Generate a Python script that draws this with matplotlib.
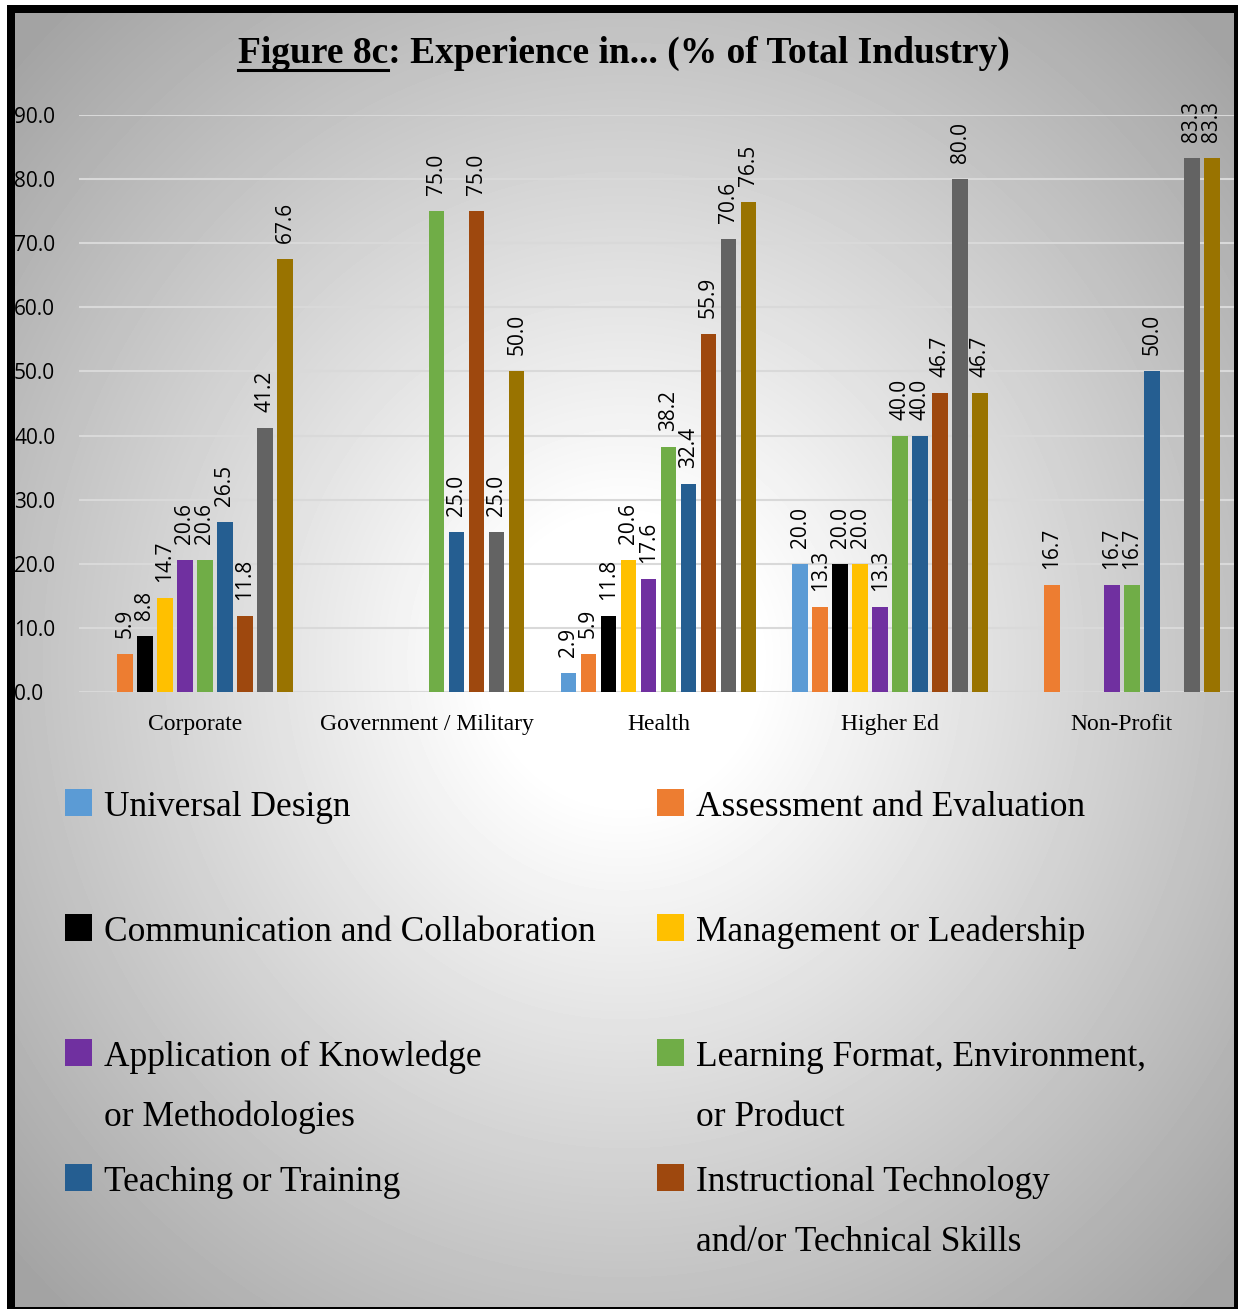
import numpy as np
import matplotlib
matplotlib.use("Agg")
import matplotlib.pyplot as plt
from matplotlib.patches import Rectangle
from matplotlib.lines import Line2D

nan = np.nan

# -----------------------------
# Data
# -----------------------------
industries = ["Corporate", "Government / Military", "Health", "Higher Ed", "Non-Profit"]

universal_design = [nan, nan, 2.9, 20.0, nan]
assessment_eval  = [5.9, nan, 5.9, 13.3, 16.7]
communication    = [8.8, nan, 11.8, 20.0, nan]
management       = [14.7, nan, 20.6, 20.0, nan]
application      = [20.6, nan, 17.6, 13.3, 16.7]
learning_format  = [20.6, 75.0, 38.2, 40.0, 16.7]
teaching         = [26.5, 25.0, 32.4, 40.0, 50.0]
instr_tech       = [11.8, 75.0, 55.9, 46.7, nan]
series9          = [41.2, 25.0, 70.6, 80.0, 83.3]
series10         = [67.6, 50.0, 76.5, 46.7, 83.3]

all_series = [universal_design, assessment_eval, communication, management,
              application, learning_format, teaching, instr_tech, series9, series10]

colors = ["#5B9BD5", "#ED7D31", "#000000", "#FFC000", "#7030A0",
          "#70AD47", "#255E91", "#9E480E", "#636363", "#997300"]

legend_labels = ["Universal Design",
                 "Assessment and Evaluation",
                 "Communication and Collaboration",
                 "Management or Leadership",
                 "Application of Knowledge\nor Methodologies",
                 "Learning Format, Environment,\nor Product",
                 "Teaching or Training",
                 "Instructional Technology\nand/or Technical Skills"]

yticks = np.arange(0, 91, 10)

# -----------------------------
# Figure + framed gradient background
# -----------------------------
W, H = 1238, 1311
fig = plt.figure(figsize=(W / 100, H / 100), dpi=100, facecolor="white")

def fx(px):
    return px / W

def fy(py):
    return 1 - py / H

bg = fig.add_axes([0, 0, 1, 1], zorder=-1)
bg.set_axis_off()
bg.add_patch(Rectangle((7, 5), W - 7, 1309 - 5, facecolor="black", edgecolor="none"))
gx = np.linspace(-1, 1, 400)
gy = np.linspace(-1, 1, 400)
GX, GY = np.meshgrid(gx, gy)
d = np.sqrt(GX ** 2 + GY ** 2)
shade = 1 - 0.36 * np.clip((d - 0.22) / 1.15, 0, 1)
bg.imshow(shade, cmap="gray", vmin=0, vmax=1, aspect="auto",
          extent=[15, 1234, 1307, 13], interpolation="bilinear", zorder=2)
bg.set_xlim(0, W)
bg.set_ylim(H, 0)

# -----------------------------
# Bars
# -----------------------------
ax_left, ax_right = 79, 1234
ax = fig.add_axes([fx(ax_left), fy(692), fx(ax_right) - fx(ax_left), fy(115) - fy(692)])
ax.set_facecolor("none")

x = np.arange(len(industries))
pitch = 0.0863
width = 0.067
n = len(all_series)

for i, (vals, c) in enumerate(zip(all_series, colors)):
    pos = x + (i - (n - 1) / 2) * pitch
    ax.bar(pos, vals, width=width, color=c, zorder=3)
    for xp, v in zip(pos, vals):
        if np.isnan(v):
            continue
        ax.annotate(f"{v:.1f}", (xp, v), xytext=(0, 11.5), textcoords="offset points",
                    rotation=90, ha="center", va="bottom", fontsize=15,
                    family="Open Sans", annotation_clip=False, zorder=4)

# 231.75 px per category
ax.set_xlim(-0.5, -0.5 + (ax_right - ax_left) / 231.75)
ax.set_ylim(0, 90)
ax.set_yticks(yticks)
ax.set_yticklabels([f"{t:.1f}" for t in yticks], family="Open Sans", fontsize=15, ha="left")
ax.tick_params(axis="y", length=0, pad=65 * 0.72)
ax.set_xticks(x)
ax.set_xticklabels(industries, family="Liberation Serif", fontsize=17, va="baseline")
ax.tick_params(axis="x", length=0, pad=38 * 0.72)
ax.grid(axis="y", color="#d9d9d9", linewidth=1.5, zorder=0)
for s in ax.spines.values():
    s.set_visible(False)

# -----------------------------
# Title with underlined figure number
# -----------------------------
title_main = "Figure 8c: Experience in... (% of Total Industry)"
title_ul = "Figure 8c"
t = fig.text(fx(624), fy(63), title_main, ha="center", va="baseline",
             family="Liberation Serif", weight="bold", fontsize=27)
fig.canvas.draw()
renderer = fig.canvas.get_renderer()
bb = t.get_window_extent(renderer)
tmp = fig.text(0, 0, title_ul, family="Liberation Serif", weight="bold", fontsize=27)
ul_w = tmp.get_window_extent(renderer).width
tmp.remove()
fig.lines.append(Line2D([bb.x0 / W, (bb.x0 + ul_w) / W], [fy(70), fy(70)],
                        transform=fig.transFigure, color="black", linewidth=2.2))

# -----------------------------
# Legend (two columns)
# -----------------------------
col_x = [65, 657]
row_y = [816, 941, 1066, 1191]
for k, (lab, c) in enumerate(zip(legend_labels, colors)):
    cx = col_x[k % 2]
    by = row_y[k // 2]
    fig.patches.append(Rectangle((fx(cx), fy(by)), 27 / W, 27 / H,
                                 transform=fig.transFigure, facecolor=c,
                                 edgecolor="none"))
    for j, line in enumerate(lab.split("\n")):
        fig.text(fx(cx + 39), fy(by + 60 * j), line, ha="left", va="baseline",
                 family="Liberation Serif", fontsize=25.5)

fig.savefig("out.png", dpi=100, facecolor="white")
